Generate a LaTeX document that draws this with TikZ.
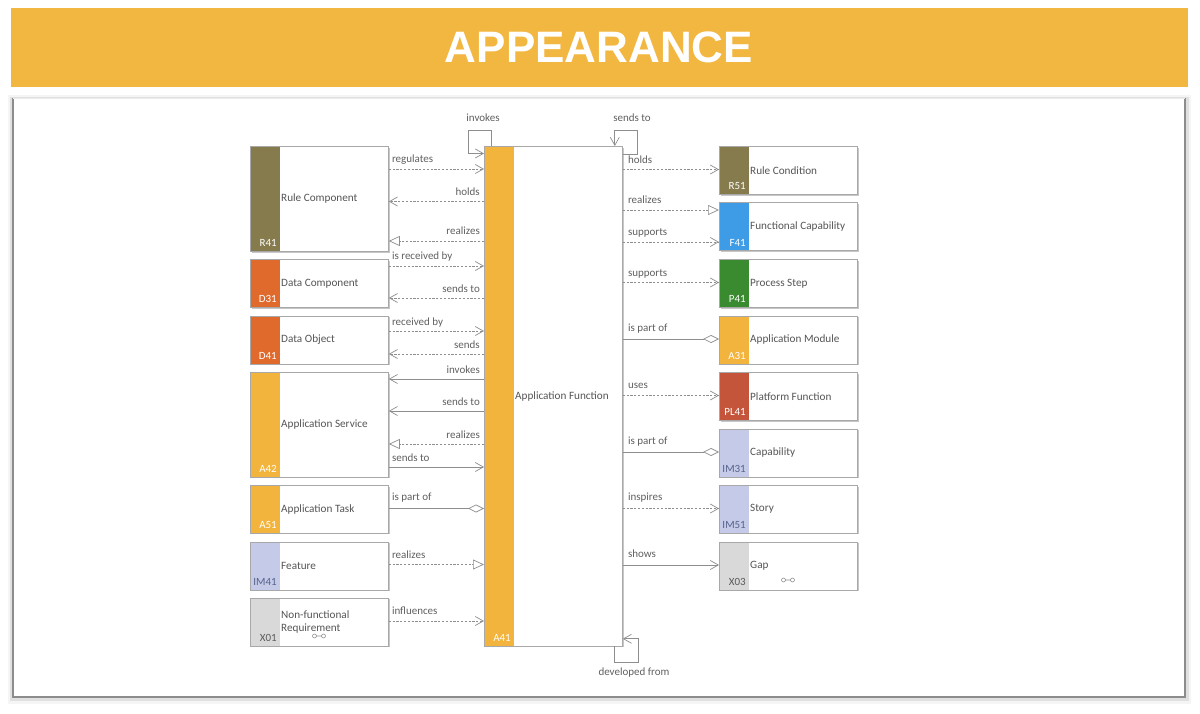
\documentclass[tikz,border=0pt]{standalone}
\usepackage{fontspec}
\setmainfont{Carlito}
\newfontfamily\titlefont{Liberation Sans}
\usetikzlibrary{arrows.meta,shadows,calc}
\definecolor{hdr}{HTML}{F2B741}
\definecolor{colR}{HTML}{857B4D}
\definecolor{colD}{HTML}{E06A2C}
\definecolor{colA}{HTML}{F2B43D}
\definecolor{colIM}{HTML}{C4CAE8}
\definecolor{colX}{HTML}{D9D9D9}
\definecolor{colF}{HTML}{3E9CE6}
\definecolor{colP}{HTML}{3A8B2F}
\definecolor{colPL}{HTML}{C4553A}
\definecolor{codeIM}{HTML}{56638A}
\definecolor{codeX}{HTML}{5A5A5A}
\definecolor{txtgray}{HTML}{555555}
\definecolor{lblgray}{HTML}{606060}
\definecolor{lngray}{HTML}{8E8E8E}
\definecolor{boxgray}{HTML}{A8A8A8}
\tikzset{
  elbox/.style={draw=boxgray, fill=white, line width=0.8pt, minimum width=138pt, inner sep=0pt,
    drop shadow={shadow xshift=1.3pt, shadow yshift=-1.3pt, fill=black, opacity=0.22}},
  eltext/.style={text=txtgray, font=\fontsize{11.2}{12.8}\selectfont, inner sep=1pt, align=left},
  elcode/.style={font=\fontsize{11}{12}\selectfont, inner sep=0pt},
  conn/.style={draw=lngray, line width=0.7pt},
  dsh/.style={dash pattern=on 2.2pt off 1.6pt},
  lbl/.style={text=lblgray, font=\fontsize{11}{12}\selectfont, inner sep=0pt},
  barb/.style={-{Straight Barb[length=8pt,width=9pt]}},
  tri/.style={-{Triangle[open,length=11pt,width=10pt,fill=white]}},
  dia/.style={-{Diamond[open,length=16pt,width=8pt,fill=white]}}
}
\newcommand\elem[8]{%
  \node[elbox, minimum height=#4pt, anchor=north west,
    path picture={\fill[#5] (path picture bounding box.north west) rectangle ([xshift=30pt]path picture bounding box.south west);}]
    (#1) at (#2,#3) {};
  \node[eltext, anchor=west] (#1t) at ([xshift=30pt]#1.west) {#8};
  \node[elcode, text=#7, anchor=base east] (#1c) at ([xshift=27pt,yshift=5pt]#1.south west) {#6};
}
\begin{document}
\begin{tikzpicture}[x=1pt,y=-1pt]
\fill[white] (0,0) rectangle (1200,714);
\useasboundingbox (0,0) rectangle (1200,714);
% header
\fill[hdr] (11,8) rectangle (1188,87);
\node[text=white, font=\titlefont\bfseries\fontsize{44}{48}\selectfont, inner sep=0pt] (title) at (599,47) {APPEARANCE};
% panel
\fill[black!4] (8,95) rectangle (1191,704);
\fill[black!12] (10,97) rectangle (1189,701);
\fill[white] (13,98) rectangle (1185,697);
\draw[black!45, line width=1.3pt] (13,98) -- (13,697) -- (1185,697) -- (1185,98);
\draw[black!8, line width=0.6pt] (13,98) -- (1185,98);
% left column
\elem{rc}{250}{146}{105}{colR}{R41}{white}{Rule Component}
\elem{dc}{250}{259}{48}{colD}{D31}{white}{Data Component}
\elem{dob}{250}{315.5}{48}{colD}{D41}{white}{Data Object}
\elem{as}{250}{372}{104.5}{colA}{A42}{white}{Application Service}
\elem{atask}{250}{485}{47.5}{colA}{A51}{white}{Application Task}
\elem{fe}{250}{541.5}{48}{colIM}{IM41}{codeIM}{Feature}
\elem{nfr}{250}{597.5}{48}{colX}{X01}{codeX}{Non-functional\\Requirement}
% middle
\elem{af}{484}{146}{499.5}{colA}{A41}{white}{Application Function}
% right column
\elem{rcd}{719}{146}{48}{colR}{R51}{white}{Rule Condition}
\elem{fc}{719}{202.5}{48}{colF}{F41}{white}{Functional Capability}
\elem{ps}{719}{259}{48}{colP}{P41}{white}{Process Step}
\elem{am}{719}{315.5}{48}{colA}{A31}{white}{Application Module}
\elem{pf}{719}{372}{48}{colPL}{PL41}{white}{Platform Function}
\elem{cap}{719}{428.5}{48}{colIM}{IM31}{codeIM}{Capability}
\elem{st}{719}{485}{47.5}{colIM}{IM51}{codeIM}{Story}
\elem{gap}{719}{541.5}{48}{colX}{X03}{codeX}{Gap}
% o-o symbols
\draw[lngray, line width=0.6pt] (314.5,636) circle (2) (323.5,636) circle (2) (316.5,636) -- (321.5,636);
\draw[lngray, line width=0.6pt] (783.5,580) circle (2) (792.5,580) circle (2) (785.5,580) -- (790.5,580);
% left connectors
\draw[conn,dsh,barb] (rc.east |- 0,169) -- (af.west |- 0,169);
\node[lbl, anchor=base west, xshift=3pt] (l1) at (rc.east |- 0,163) {regulates};
\draw[conn,dsh,barb] (af.west |- 0,201.5) -- (rc.east |- 0,201.5);
\node[lbl, anchor=base east, xshift=-4pt] (l2) at (af.west |- 0,195.5) {holds};
\draw[conn,dsh,tri] (af.west |- 0,241) -- (rc.east |- 0,241);
\node[lbl, anchor=base east, xshift=-4pt] (l3) at (af.west |- 0,235) {realizes};
\draw[conn,dsh,barb] (dc.east |- 0,266) -- (af.west |- 0,266);
\node[lbl, anchor=base west, xshift=3pt] (l4) at (dc.east |- 0,260) {is received by};
\draw[conn,dsh,barb] (af.west |- 0,298) -- (dc.east |- 0,298);
\node[lbl, anchor=base east, xshift=-4pt] (l5) at (af.west |- 0,292) {sends to};
\draw[conn,dsh,barb] (dob.east |- 0,331) -- (af.west |- 0,331);
\node[lbl, anchor=base west, xshift=3pt] (l6) at (dob.east |- 0,325) {received by};
\draw[conn,dsh,barb] (af.west |- 0,354) -- (dob.east |- 0,354);
\node[lbl, anchor=base east, xshift=-4pt] (l7) at (af.west |- 0,348) {sends};
\draw[conn,barb] (af.west |- 0,379) -- (as.east |- 0,379);
\node[lbl, anchor=base east, xshift=-4pt] (l8) at (af.west |- 0,373) {invokes};
\draw[conn,barb] (af.west |- 0,411) -- (as.east |- 0,411);
\node[lbl, anchor=base east, xshift=-4pt] (l9) at (af.west |- 0,405) {sends to};
\draw[conn,dsh,tri] (af.west |- 0,444) -- (as.east |- 0,444);
\node[lbl, anchor=base east, xshift=-4pt] (l10) at (af.west |- 0,438) {realizes};
\draw[conn,barb] (as.east |- 0,467) -- (af.west |- 0,467);
\node[lbl, anchor=base west, xshift=3pt] (l11) at (as.east |- 0,461) {sends to};
\draw[conn,dia] (atask.east |- 0,508.5) -- (af.west |- 0,508.5);
\node[lbl, anchor=base west, xshift=3pt] (l12) at (atask.east |- 0,500) {is part of};
\draw[conn,dsh,tri] (fe.east |- 0,564.5) -- (af.west |- 0,564.5);
\node[lbl, anchor=base west, xshift=3pt] (l13) at (fe.east |- 0,558) {realizes};
\draw[conn,dsh,barb] (nfr.east |- 0,621) -- (af.west |- 0,621);
\node[lbl, anchor=base west, xshift=3pt] (l14) at (nfr.east |- 0,614.5) {influences};
% right connectors
\draw[conn,dsh,barb] (af.east |- 0,169.5) -- (rcd.west |- 0,169.5);
\node[lbl, anchor=base west, xshift=5pt] (r1) at (af.east |- 0,164) {holds};
\draw[conn,dsh,tri] (af.east |- 0,210) -- (fc.west |- 0,210);
\node[lbl, anchor=base west, xshift=5pt] (r2) at (af.east |- 0,204) {realizes};
\draw[conn,dsh,barb] (af.east |- 0,242) -- (fc.west |- 0,242);
\node[lbl, anchor=base west, xshift=5pt] (r3) at (af.east |- 0,236) {supports};
\draw[conn,dsh,barb] (af.east |- 0,282.5) -- (ps.west |- 0,282.5);
\node[lbl, anchor=base west, xshift=5pt] (r4) at (af.east |- 0,276.5) {supports};
\draw[conn,dia] (af.east |- 0,339) -- (am.west |- 0,339);
\node[lbl, anchor=base west, xshift=5pt] (r5) at (af.east |- 0,331) {is part of};
\draw[conn,dsh,barb] (af.east |- 0,395.5) -- (pf.west |- 0,395.5);
\node[lbl, anchor=base west, xshift=5pt] (r6) at (af.east |- 0,388.5) {uses};
\draw[conn,dia] (af.east |- 0,452) -- (cap.west |- 0,452);
\node[lbl, anchor=base west, xshift=5pt] (r7) at (af.east |- 0,444) {is part of};
\draw[conn,dsh,barb] (af.east |- 0,508.5) -- (st.west |- 0,508.5);
\node[lbl, anchor=base west, xshift=5pt] (r8) at (af.east |- 0,500.5) {inspires};
\draw[conn,barb] (af.east |- 0,565) -- (gap.west |- 0,565);
\node[lbl, anchor=base west, xshift=5pt] (r9) at (af.east |- 0,557.5) {shows};
% self loops
\draw[conn,barb] ([xshift=7pt]af.north west) -- ++(0,-16) -- ++(-23,0) -- ++(0,23.5) -- ([yshift=-7.5pt]af.north west);
\node[lbl, anchor=base, inner sep=0pt] (s1) at (483,122) {invokes};
\draw[conn,barb] ([yshift=-8pt]af.north east) -- ++(15,0) -- ++(0,-24) -- ++(-23,0) -- ([xshift=-8pt]af.north east);
\node[lbl, anchor=base, inner sep=0pt] (s2) at (632,122) {sends to};
\draw[conn,barb] ([xshift=-8pt]af.south east) -- ++(0,16.5) -- ++(24,0) -- ++(0,-24) -- ([yshift=7.5pt]af.south east);
\node[lbl, anchor=base, inner sep=0pt] (s3) at (634,675) {developed from};
\end{tikzpicture}
\end{document}
